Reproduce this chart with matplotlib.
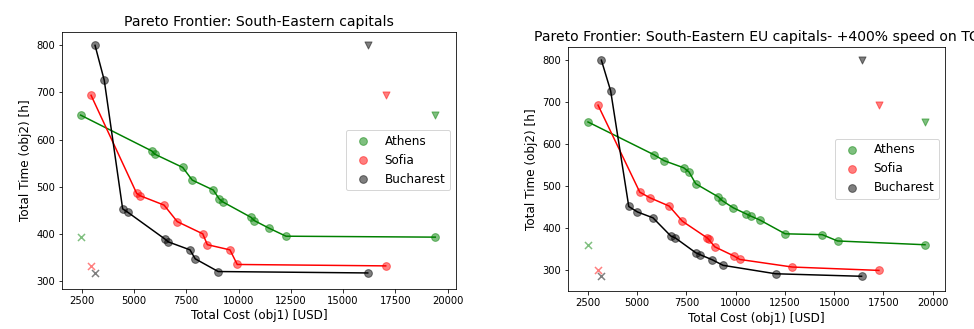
import matplotlib
matplotlib.use("Agg")
import matplotlib.pyplot as plt

cities = ["Athens", "Sofia", "Bucharest"]
colors = ["green", "red", "black"]

# Left panel: South-Eastern capitals
left_cost = {
    "Athens": [2450, 5850, 6000, 7330, 7790, 8790, 9080, 9240, 10600, 10760, 11460, 12270, 19410],
    "Sofia": [2950, 5130, 5290, 6440, 7070, 8290, 8510, 9590, 9940, 17040],
    "Bucharest": [3140, 3580, 4460, 4700, 6480, 6640, 7680, 7930, 9030, 16180],
}
left_time = {
    "Athens": [652, 576, 569, 541, 514, 493, 474, 468, 435, 428, 412, 395, 393],
    "Sofia": [694, 486, 481, 461, 426, 400, 377, 366, 335, 332],
    "Bucharest": [800, 726, 453, 446, 389, 383, 366, 347, 320, 317],
}
left_nadir = {"Athens": (19410, 652), "Sofia": (17040, 694), "Bucharest": (16180, 800)}
left_ideal = {"Athens": (2450, 393), "Sofia": (2950, 332), "Bucharest": (3140, 317)}

# Right panel: +400% speed on TC
right_cost = {
    "Athens": [2500, 5850, 6360, 7360, 7630, 7970, 9110, 9310, 9870, 10500, 10770, 11220, 12510, 14390, 15170, 19610],
    "Sofia": [3010, 5130, 5630, 6620, 7290, 8560, 8620, 8940, 9920, 10210, 12870, 17270],
    "Bucharest": [3180, 3650, 4570, 5010, 5800, 6700, 6940, 7970, 8210, 8820, 9360, 12020, 16390],
}
right_time = {
    "Athens": [653, 575, 561, 544, 534, 506, 475, 466, 449, 435, 429, 420, 387, 385, 370, 361],
    "Sofia": [693, 486, 473, 453, 417, 377, 374, 356, 334, 326, 308, 300],
    "Bucharest": [800, 727, 452, 439, 425, 382, 377, 342, 337, 325, 312, 292, 286],
}
right_nadir = {"Athens": (19610, 653), "Sofia": (17270, 693), "Bucharest": (16390, 800)}
right_ideal = {"Athens": (2500, 361), "Sofia": (3010, 300), "Bucharest": (3180, 286)}

titles = ["Pareto Frontier: South-Eastern capitals",
          "Pareto Frontier: South-Eastern EU capitals- +400% speed on TC"]

fig = plt.figure(figsize=(974 / 72, 329 / 72), dpi=72)
ax1 = fig.add_axes([62 / 974, 1 - 288.5 / 329, (456 - 62) / 974, (288.5 - 31.7) / 329])
ax2 = fig.add_axes([568 / 974, 1 - 291 / 329, (945 - 568) / 974, (291 - 46.7) / 329])

panels = [
    (ax1, left_cost, left_time, left_nadir, left_ideal, titles[0]),
    (ax2, right_cost, right_time, right_nadir, right_ideal, titles[1]),
]

for ax, cost, time, nadir, ideal, title in panels:
    for city, c in zip(cities, colors):
        ax.scatter(cost[city], time[city], color=c, alpha=0.5, s=60, label=city, zorder=3)
        ax.plot(cost[city], time[city], color=c, lw=1.5, zorder=2)
        ax.scatter([nadir[city][0]], [nadir[city][1]], color=c, alpha=0.5, marker="v", s=50)
        ax.scatter([ideal[city][0]], [ideal[city][1]], color=c, alpha=0.5, marker="x", s=50)
    ax.set_title(title, fontsize=14)
    ax.set_xlabel("Total Cost (obj1) [USD]", fontsize=12)
    ax.set_ylabel("Total Time (obj2) [h]", fontsize=12)
    ax.set_xticks([2500, 5000, 7500, 10000, 12500, 15000, 17500, 20000])
    ax.set_yticks([300, 400, 500, 600, 700, 800])
    ax.tick_params(labelsize=10)
    ax.legend(loc="center right", fontsize=12)

ax1.set_xlim(1560, 20400)
ax1.set_ylim(284, 829)
ax2.set_xlim(1485, 20625)
ax2.set_ylim(251, 832)

fig.savefig("out.png", dpi=72)
